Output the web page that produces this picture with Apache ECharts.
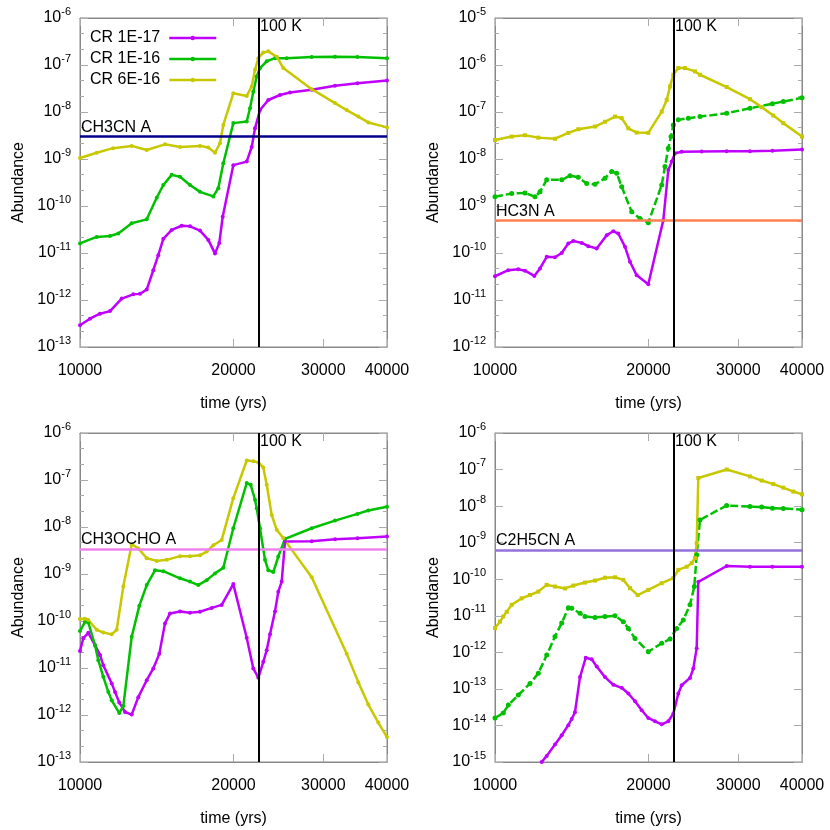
<!DOCTYPE html>
<html>
<head>
<meta charset="utf-8">
<script src="https://cdn.jsdelivr.net/npm/echarts@6/dist/echarts.min.js"></script>
<style>
  html, body { margin: 0; padding: 0; background: #fff; }
  #chart { width: 830px; height: 830px; }
</style>
</head>
<body>
<div id="chart"></div>
<script>
// x ticks (yrs) and the 100 K marker
var xTicks = [10000, 20000, 30000, 40000];
var t100K = 22440;

var seriesNames = ['CR 1E-17', 'CR 1E-16', 'CR 6E-16'];
var seriesColors = ['#c000ff', '#00c000', '#c8c800'];

// CH3CN
var ch3cn_t17 = [10000, 10460, 10945, 11451, 12072, 12721, 13112, 13515, 13924, 14241, 14567, 15130, 15829, 16433, 17192, 17850, 18398, 18759, 19049, 19982, 21229, 21713, 22040, 22543, 23404, 24673, 25813, 28470, 31630, 35000, 40000];
var ch3cn_v17 = [2.9e-13, 4.0e-13, 5.1e-13, 5.8e-13, 1.07e-12, 1.32e-12, 1.35e-12, 1.67e-12, 4.3e-12, 9.0e-12, 2.0e-11, 3.1e-11, 3.8e-11, 3.7e-11, 3.0e-11, 1.9e-11, 9.7e-12, 1.64e-11, 5.9e-11, 7.4e-10, 8.8e-10, 1.8e-9, 4.5e-9, 1.1e-8, 1.8e-8, 2.3e-8, 2.6e-8, 2.96e-8, 3.6e-8, 4.1e-8, 4.7e-8];
var ch3cn_t16 = [10000, 10783, 11451, 11888, 12630, 13515, 14139, 14567, 15130, 15708, 16433, 17192, 18257, 18674, 19101, 19982, 21229, 21547, 21871, 22210, 22543, 23236, 24122, 25430, 28470, 31630, 35000, 40000];
var ch3cn_v16 = [1.6e-11, 2.2e-11, 2.3e-11, 2.6e-11, 4.3e-11, 5.2e-11, 1.5e-10, 2.8e-10, 4.6e-10, 4.2e-10, 2.8e-10, 2.0e-10, 1.6e-10, 2.4e-10, 8.1e-10, 5.8e-9, 6.3e-9, 1.2e-8, 2.7e-8, 5.7e-8, 8.6e-8, 1.2e-7, 1.4e-7, 1.4e-7, 1.48e-7, 1.5e-7, 1.48e-7, 1.4e-7];
var ch3cn_t6 = [10000, 10783, 11607, 12630, 13515, 14679, 15708, 17192, 17850, 18398, 18818, 19101, 19982, 21229, 21713, 22040, 22371, 22882, 23404, 24308, 25043, 28470, 31630, 33344, 35138, 36761, 40000];
var ch3cn_v6 = [1.05e-9, 1.36e-9, 1.7e-9, 1.9e-9, 1.55e-9, 2.05e-9, 1.8e-9, 1.9e-9, 1.75e-9, 1.36e-9, 2.16e-9, 5.3e-9, 2.5e-8, 2.2e-8, 3.5e-8, 7.9e-8, 1.4e-7, 1.85e-7, 1.95e-7, 1.5e-7, 8.6e-8, 3.06e-8, 1.55e-8, 1.1e-8, 8.0e-9, 6.0e-9, 4.7e-9];

// HC3N
var hc3n_t17 = [10000, 10619, 11109, 11451, 11942, 12253, 12630, 13112, 13515, 13924, 14241, 14792, 15240, 15829, 16560, 17060, 17450, 17987, 18398, 18963, 19982, 21383, 21871, 22210, 22543, 23236, 25430, 28470, 31630, 35000, 40000];
var hc3n_v17 = [3.2e-11, 4.3e-11, 4.5e-11, 4.2e-11, 3.25e-11, 4.7e-11, 8.3e-11, 8.1e-11, 1.0e-10, 1.6e-10, 1.8e-10, 1.64e-10, 1.4e-10, 1.25e-10, 2.4e-10, 2.9e-10, 2.6e-10, 1.35e-10, 6.5e-11, 3.35e-11, 2.16e-11, 5.0e-10, 5.8e-9, 8.8e-9, 1.32e-8, 1.43e-8, 1.45e-8, 1.47e-8, 1.47e-8, 1.5e-8, 1.6e-8];
var hc3n_t16 = [10000, 10783, 11451, 11980, 12253, 12630, 13515, 14030, 14567, 15130, 15708, 16433, 16940, 17325, 17720, 18540, 19248, 19982, 21229, 21547, 21871, 22140, 22371, 22882, 23938, 25236, 28470, 31630, 35000, 36761, 40000];
var hc3n_v16 = [1.57e-9, 1.85e-9, 1.9e-9, 1.57e-9, 2.0e-9, 3.6e-9, 3.6e-9, 4.4e-9, 4.1e-9, 3.0e-9, 2.9e-9, 3.9e-9, 5.4e-9, 5.0e-9, 2.57e-9, 7.5e-10, 5.4e-10, 4.4e-10, 2.8e-9, 6.9e-9, 1.7e-8, 3.0e-8, 5.3e-8, 6.8e-8, 7.4e-8, 8.0e-8, 9.4e-8, 1.2e-7, 1.5e-7, 1.67e-7, 2.0e-7];
var hc3n_t6 = [10000, 10783, 11451, 12160, 13112, 13924, 14567, 15708, 16433, 17192, 17720, 18257, 18963, 19982, 21229, 21713, 22040, 22371, 22882, 23584, 24673, 25236, 28470, 31630, 33344, 35138, 36761, 40000];
var hc3n_v6 = [2.54e-8, 3.0e-8, 3.2e-8, 2.85e-8, 2.7e-8, 3.6e-8, 4.3e-8, 4.9e-8, 6.2e-8, 8.0e-8, 7.4e-8, 4.5e-8, 3.65e-8, 3.6e-8, 1.02e-7, 1.8e-7, 3.5e-7, 6.2e-7, 8.6e-7, 8.6e-7, 7.3e-7, 6.2e-7, 3.4e-7, 1.87e-7, 1.27e-7, 8.4e-8, 5.8e-8, 3.0e-8];

// CH3OCHO
var ch3ocho_t17 = [10000, 10150, 10382, 10701, 10945, 11109, 11539, 11712, 11942, 12253, 12630, 13012, 13515, 13924, 14306, 14679, 15014, 15708, 16433, 17192, 18126, 18963, 19982, 21229, 21871, 22371, 22882, 23236, 23584, 24122, 24484, 24863, 25236, 28470, 31630, 35000, 40000];
var ch3ocho_v17 = [2.3e-11, 4.3e-11, 5.6e-11, 3.06e-11, 1.9e-11, 1.15e-11, 4.7e-12, 3.1e-12, 1.84e-12, 1.16e-12, 1.02e-12, 2.4e-12, 5.5e-12, 9.8e-12, 2.0e-11, 8.9e-11, 1.45e-10, 1.6e-10, 1.5e-10, 1.57e-10, 1.9e-10, 2.2e-10, 6.1e-10, 4.4e-11, 9.8e-12, 6.2e-12, 1.35e-11, 2.4e-11, 5.2e-11, 1.6e-10, 4.2e-10, 6.9e-10, 4.9e-9, 5.0e-9, 5.5e-9, 5.75e-9, 6.3e-9];
var ch3ocho_t16 = [10000, 10228, 10382, 10701, 10862, 11109, 11363, 11539, 11942, 12160, 12630, 13070, 13515, 14030, 14567, 15708, 16433, 17060, 17720, 18398, 19101, 19982, 21229, 21615, 22040, 22210, 22543, 23058, 23404, 23938, 24484, 25236, 28470, 31630, 35000, 36761, 40000];
var ch3ocho_v16 = [6.1e-11, 9.6e-11, 9.3e-11, 3.06e-11, 1.47e-11, 6.5e-12, 3.1e-12, 2.05e-12, 1.1e-12, 1.55e-12, 4.6e-11, 2.1e-10, 5.8e-10, 1.2e-9, 1.15e-9, 8.1e-10, 6.9e-10, 5.8e-10, 7.4e-10, 1.03e-9, 1.36e-9, 9.4e-9, 8.6e-8, 7.9e-8, 3.8e-8, 2.5e-8, 9.4e-9, 2.0e-9, 1.2e-9, 1.1e-9, 2.35e-9, 5.6e-9, 9.4e-9, 1.37e-8, 1.9e-8, 2.24e-8, 2.7e-8];
var ch3ocho_t6 = [10000, 10228, 10382, 10783, 11109, 11539, 11802, 12160, 12630, 13012, 13515, 14139, 14792, 15708, 16433, 17192, 17720, 18257, 18963, 19982, 21229, 21871, 22371, 22882, 23236, 23766, 24308, 25043, 28470, 33344, 35138, 36761, 38460, 40000];
var ch3ocho_v6 = [1.1e-10, 1.12e-10, 1.05e-10, 6.5e-11, 5.7e-11, 5.2e-11, 6.5e-11, 5.4e-10, 4.3e-9, 3.5e-9, 2.16e-9, 1.9e-9, 2.0e-9, 2.4e-9, 2.4e-9, 2.5e-9, 3.0e-9, 4.1e-9, 5.3e-9, 4.1e-8, 2.6e-7, 2.5e-7, 2.37e-7, 1.85e-7, 7.9e-8, 1.8e-8, 8.7e-9, 5.8e-9, 8.5e-10, 2.0e-11, 5.0e-12, 1.67e-12, 6.9e-13, 3.4e-13];

// C2H5CN
var c2h5cn_t17 = [12348, 12630, 13112, 13515, 13924, 14139, 14350, 14679, 15062, 15475, 15829, 16433, 17060, 17720, 18257, 18818, 19396, 19982, 20596, 21229, 21871, 22371, 22882, 23236, 24122, 24484, 24863, 25043, 28470, 31630, 35000, 40000];
var c2h5cn_v17 = [1.0e-15, 1.47e-15, 3.0e-15, 5.4e-15, 1.02e-14, 1.5e-14, 2.3e-14, 2.1e-13, 7.1e-13, 6.5e-13, 4.1e-13, 2.1e-13, 1.3e-13, 1.07e-13, 7.5e-14, 4.6e-14, 2.6e-14, 1.6e-14, 1.3e-14, 1.07e-14, 1.3e-14, 2.1e-14, 7.5e-14, 1.26e-13, 2.0e-13, 3.6e-13, 1.3e-12, 8.5e-11, 2.3e-10, 2.2e-10, 2.2e-10, 2.2e-10];
var c2h5cn_t16 = [10000, 10382, 10619, 11109, 11712, 12160, 12630, 13112, 13515, 13924, 14139, 14679, 15014, 15708, 16433, 17192, 17850, 18257, 18818, 19982, 21229, 22040, 22716, 23404, 24122, 24596, 24863, 25236, 28470, 31630, 33344, 35000, 36761, 40000];
var c2h5cn_v16 = [1.6e-14, 2.2e-14, 3.6e-14, 6.8e-14, 1.4e-13, 2.66e-13, 8.4e-13, 2.7e-12, 6.3e-12, 1.65e-11, 1.6e-11, 1.17e-11, 9.5e-12, 9.0e-12, 9.5e-12, 1.0e-11, 6.9e-12, 4.5e-12, 2.4e-12, 1.04e-12, 1.77e-12, 2.3e-12, 4.5e-12, 7.7e-12, 2.0e-11, 6.3e-11, 4.7e-10, 4.2e-9, 1.04e-8, 9.7e-9, 9.4e-9, 8.8e-9, 8.6e-9, 8.0e-9];
var c2h5cn_t6 = [10000, 10228, 10382, 10542, 10783, 11280, 11712, 12160, 12630, 13112, 13718, 14241, 15014, 15708, 16433, 17192, 17850, 18398, 19049, 19982, 21229, 22371, 22882, 23766, 24308, 24673, 24863, 25043, 28470, 31630, 33344, 35138, 36761, 38460, 40000];
var c2h5cn_v6 = [4.6e-12, 6.9e-12, 9.6e-12, 1.28e-11, 2.0e-11, 3.0e-11, 3.7e-11, 4.6e-11, 7.0e-11, 6.3e-11, 5.6e-11, 6.7e-11, 8.1e-11, 9.2e-11, 1.1e-10, 1.13e-10, 9.6e-11, 5.7e-11, 3.7e-11, 5.1e-11, 7.8e-11, 1.07e-10, 1.8e-10, 2.2e-10, 2.75e-10, 3.8e-10, 9.7e-10, 5.9e-8, 1.0e-7, 6.5e-8, 5.0e-8, 4.0e-8, 3.2e-8, 2.5e-8, 2.1e-8];

// observed abundance per molecule
var refNames = ['CH3CN A', 'HC3N A', 'CH3OCHO A', 'C2H5CN A'];
var refValues = [3.0e-9, 5.0e-10, 3.4e-9, 6.4e-10];
var refColors = ['#00008b', '#ff7f50', '#ee82ee', '#9370db'];

var yMins = [1e-13, 1e-12, 1e-13, 1e-15];
var yMaxs = [1e-6, 1e-5, 1e-6, 1e-6];

var panels = [
  { t: [ch3cn_t17, ch3cn_t16, ch3cn_t6], v: [ch3cn_v17, ch3cn_v16, ch3cn_v6], dashed: false, minor: true },
  { t: [hc3n_t17, hc3n_t16, hc3n_t6], v: [hc3n_v17, hc3n_v16, hc3n_v6], dashed: true, minor: true },
  { t: [ch3ocho_t17, ch3ocho_t16, ch3ocho_t6], v: [ch3ocho_v17, ch3ocho_v16, ch3ocho_v6], dashed: false, minor: true },
  { t: [c2h5cn_t17, c2h5cn_t16, c2h5cn_t6], v: [c2h5cn_v17, c2h5cn_v16, c2h5cn_v6], dashed: true, minor: false }
];

var gridPos = [[80, 18], [495, 18], [80, 433], [495, 433]];
var fontFamily = '"Liberation Sans", Arial, sans-serif';
var borderColor = '#888';
var tickColor = '#aaa';

var xLog = xTicks.map(function (v) { return Math.log10(v); });
var xFirst = xTicks[0], xLast = xTicks[xTicks.length - 1];

var grids = [], xAxes = [], yAxes = [], series = [];

panels.forEach(function (p, i) {
  grids.push({
    left: gridPos[i][0], top: gridPos[i][1], width: 307, height: 329,
    show: true, borderColor: borderColor, borderWidth: 1
  });

  // log axes that carry the data
  xAxes.push({ type: 'log', gridIndex: i, min: xFirst, max: xLast, show: false });
  yAxes.push({ type: 'log', gridIndex: i, min: yMins[i], max: yMaxs[i], show: false });

  // tick / label axes, gnuplot style
  xAxes.push({
    type: 'value', gridIndex: i, position: 'bottom',
    min: xLog[0], max: xLog[xLog.length - 1],
    name: 'time (yrs)', nameLocation: 'middle', nameGap: 49,
    nameTextStyle: { fontSize: 16, color: '#000', fontFamily: fontFamily },
    axisLine: { show: true, onZero: false, lineStyle: { color: borderColor } },
    axisTick: { inside: true, length: 8, customValues: xLog, lineStyle: { color: tickColor } },
    axisLabel: {
      customValues: xLog, margin: 16, fontSize: 16, color: '#000', fontFamily: fontFamily,
      formatter: function (v) { return String(Math.round(Math.pow(10, v))); }
    },
    splitLine: { show: false }
  });
  xAxes.push({
    type: 'value', gridIndex: i, position: 'top',
    min: xLog[0], max: xLog[xLog.length - 1],
    axisLine: { show: true, onZero: false, lineStyle: { color: borderColor } },
    axisTick: { inside: true, length: 8, customValues: xLog, lineStyle: { color: tickColor } },
    axisLabel: { show: false },
    splitLine: { show: false }
  });

  var yLo = Math.round(Math.log10(yMins[i]));
  var yHi = Math.round(Math.log10(yMaxs[i]));
  yAxes.push({
    type: 'value', gridIndex: i, position: 'left', min: yLo, max: yHi, interval: 1,
    name: 'Abundance', nameLocation: 'middle', nameGap: 53,
    nameTextStyle: { fontSize: 16, color: '#000', fontFamily: fontFamily },
    axisLine: { show: true, onZero: false, lineStyle: { color: borderColor } },
    axisTick: { inside: true, length: 8, lineStyle: { color: tickColor } },
    minorTick: { show: p.minor, splitNumber: 3, length: 4, lineStyle: { color: tickColor } },
    axisLabel: {
      margin: 9, color: '#000', fontFamily: fontFamily,
      formatter: function (v) { return '{b|10}{s|' + v + '}'; },
      rich: {
        b: { fontSize: 16, lineHeight: 24, color: '#000', fontFamily: fontFamily },
        s: { fontSize: 11, lineHeight: 12, verticalAlign: 'top', color: '#000', fontFamily: fontFamily }
      }
    },
    splitLine: { show: false }
  });
  yAxes.push({
    type: 'value', gridIndex: i, position: 'right', min: yLo, max: yHi, interval: 1,
    axisLine: { show: true, onZero: false, lineStyle: { color: borderColor } },
    axisTick: { inside: true, length: 8, lineStyle: { color: tickColor } },
    minorTick: { show: p.minor, splitNumber: 3, length: 4, lineStyle: { color: tickColor } },
    axisLabel: { show: false },
    splitLine: { show: false }
  });

  for (var k = 0; k < 3; k++) {
    var pts = p.t[k].map(function (t, j) { return [t, p.v[k][j]]; });
    var dashedLine = p.dashed && k === 1;
    var s = {
      name: seriesNames[k], type: 'line',
      xAxisIndex: i * 3, yAxisIndex: i * 3,
      data: pts,
      symbol: (p.dashed && k === 2) ? 'rect' : 'circle',
      symbolSize: dashedLine ? 5 : 4,
      lineStyle: { color: seriesColors[k], width: 2.5, type: dashedLine ? [8, 3] : 'solid' },
      itemStyle: { color: seriesColors[k] },
      emphasis: { disabled: true },
      animation: false
    };
    if (k === 0) {
      s.markLine = {
        silent: true, symbol: ['none', 'none'], animation: false,
        data: [
          [
            {
              coord: [xFirst, refValues[i]],
              lineStyle: { color: refColors[i], width: 2.5, type: 'solid' },
              label: { show: true, position: 'insideStartTop', distance: [1, 1], formatter: refNames[i], color: '#000', fontSize: 16, fontFamily: fontFamily }
            },
            { coord: [xLast, refValues[i]] }
          ],
          {
            xAxis: t100K,
            lineStyle: { color: '#000', width: 2, type: 'solid' },
            label: { show: false }
          }
        ]
      };
      s.markPoint = {
        silent: true, animation: false,
        data: [{
          coord: [t100K, yMaxs[i]], symbolSize: 0,
          label: { show: true, position: 'right', distance: 1, offset: [0, 9], formatter: '100 K', color: '#000', fontSize: 16, fontFamily: fontFamily }
        }]
      };
    }
    series.push(s);
  }
});

var myChart = echarts.init(document.getElementById('chart'));
var option = {
  backgroundColor: '#fff',
  animation: false,
  textStyle: { fontFamily: fontFamily },
  legend: {
    data: seriesNames, orient: 'vertical', left: 90, top: 30, align: 'right',
    itemWidth: 47, itemHeight: 14, itemGap: 5, padding: 0, selectedMode: false,
    icon: 'path://M0,5.2h47v2.6h-47z M21.3,6.5a2.2,2.2 0 1,1 4.4,0a2.2,2.2 0 1,1 -4.4,0z',
    textStyle: { fontSize: 16, color: '#000', fontFamily: fontFamily, padding: [0, 4, 0, 0] }
  },
  grid: grids,
  xAxis: xAxes,
  yAxis: yAxes,
  series: series
};
option && myChart.setOption(option);
</script>
</body>
</html>
